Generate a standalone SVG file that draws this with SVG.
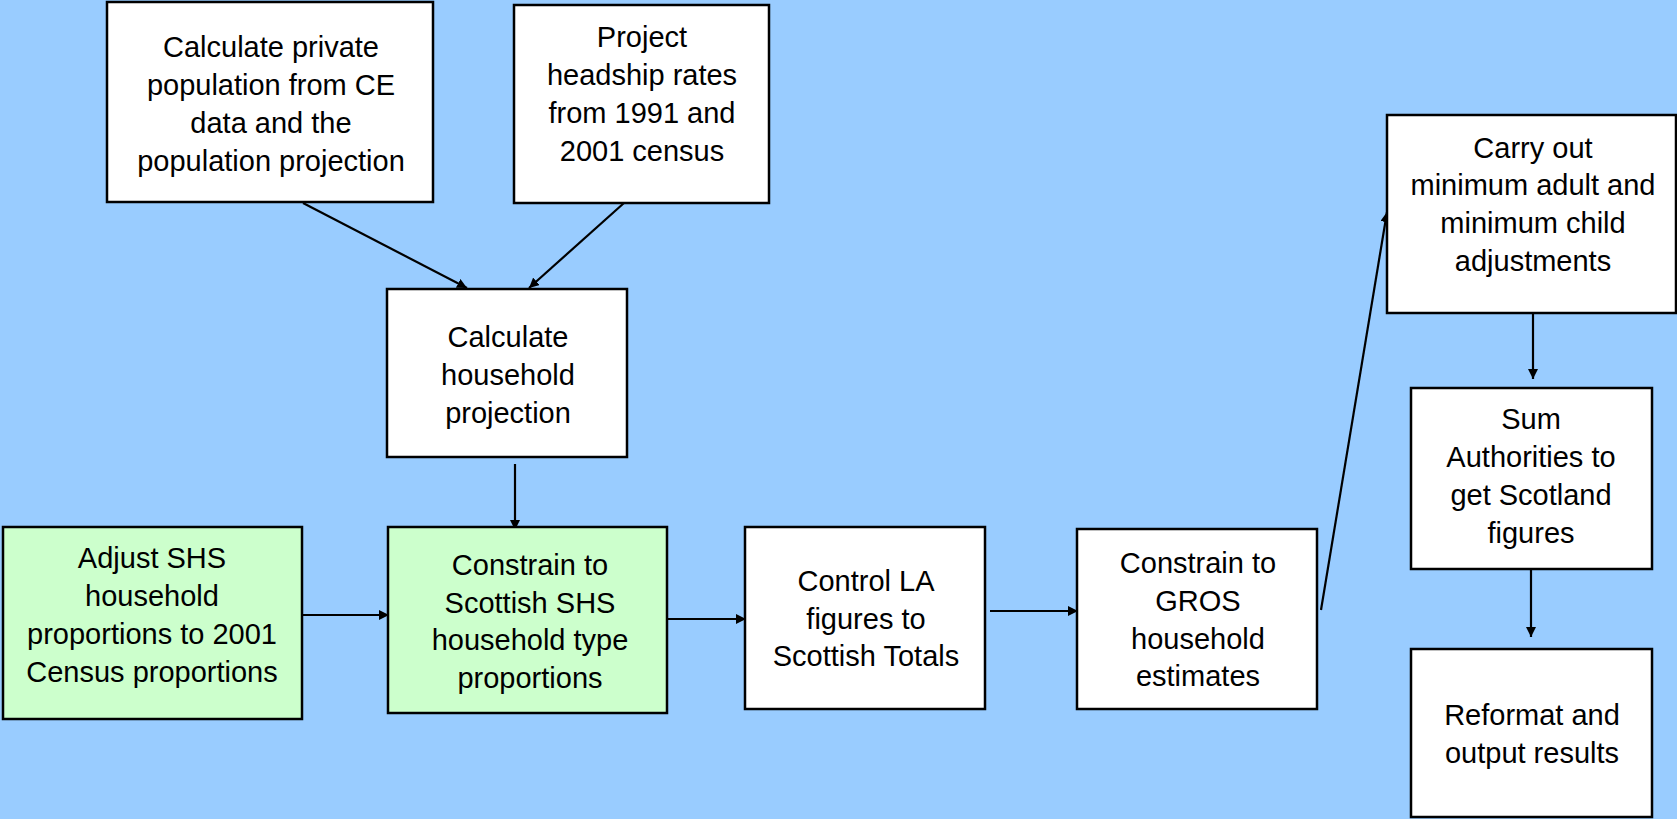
<svg xmlns="http://www.w3.org/2000/svg" width="1677" height="819" viewBox="0 0 1677 819">
<style>
.box{fill:#FFFFFF;stroke:#000000;stroke-width:2.5}
.green{fill:#CCFFCC}
.lbl{font-family:"Liberation Sans",Arial,sans-serif;font-size:29px;fill:#000000;text-anchor:middle}
.con{stroke:#000000;stroke-width:2.2;fill:none;marker-end:url(#ah)}
</style>
<defs>
<marker id="ah" markerUnits="userSpaceOnUse" markerWidth="10" markerHeight="10" refX="10" refY="5" orient="auto">
<path d="M0,0 L10,5 L0,10 z" fill="#000000"/>
</marker>
</defs>
<rect x="0" y="0" width="1677" height="819" fill="#99CCFF"/>
<g id="connectors">
<line class="con" x1="303" y1="203" x2="467" y2="288"/>
<line class="con" x1="624" y1="203" x2="529" y2="288"/>
<line class="con" x1="515" y1="464" x2="515" y2="530"/>
<line class="con" x1="302" y1="615" x2="389" y2="615"/>
<line class="con" x1="662" y1="619" x2="746" y2="619"/>
<line class="con" x1="990" y1="611" x2="1078" y2="611"/>
<line class="con" x1="1321" y1="610" x2="1387" y2="212"/>
<line class="con" x1="1533" y1="312" x2="1533" y2="379"/>
<line class="con" x1="1531" y1="569" x2="1531" y2="637"/>
</g>
<g id="n1">
<rect class="box" x="107" y="2" width="326" height="200"/>
<text class="lbl" x="271" y="57">Calculate private</text>
<text class="lbl" x="271" y="95">population from CE</text>
<text class="lbl" x="271" y="132.5">data and the</text>
<text class="lbl" x="271" y="170.5">population projection</text>
</g>
<g id="n2">
<rect class="box" x="514" y="5" width="255" height="198"/>
<text class="lbl" x="642" y="47">Project</text>
<text class="lbl" x="642" y="84.5">headship rates</text>
<text class="lbl" x="642" y="122.5">from 1991 and</text>
<text class="lbl" x="642" y="160.5">2001 census</text>
</g>
<g id="n3">
<rect class="box" x="387" y="289" width="240" height="168"/>
<text class="lbl" x="508" y="347">Calculate</text>
<text class="lbl" x="508" y="385">household</text>
<text class="lbl" x="508" y="422.5">projection</text>
</g>
<g id="n4">
<rect class="box green" x="388" y="527" width="279" height="186"/>
<text class="lbl" x="530" y="575">Constrain to</text>
<text class="lbl" x="530" y="612.5">Scottish SHS</text>
<text class="lbl" x="530" y="650">household type</text>
<text class="lbl" x="530" y="687.5">proportions</text>
</g>
<g id="n5">
<rect class="box green" x="3" y="527" width="299" height="192"/>
<text class="lbl" x="152" y="568">Adjust SHS</text>
<text class="lbl" x="152" y="606">household</text>
<text class="lbl" x="152" y="644">proportions to 2001</text>
<text class="lbl" x="152" y="682">Census proportions</text>
</g>
<g id="n6">
<rect class="box" x="745" y="527" width="240" height="182"/>
<text class="lbl" x="866" y="591">Control LA</text>
<text class="lbl" x="866" y="628.5">figures to</text>
<text class="lbl" x="866" y="666">Scottish Totals</text>
</g>
<g id="n7">
<rect class="box" x="1077" y="529" width="240" height="180"/>
<text class="lbl" x="1198" y="573">Constrain to</text>
<text class="lbl" x="1198" y="610.5">GROS</text>
<text class="lbl" x="1198" y="648.5">household</text>
<text class="lbl" x="1198" y="686">estimates</text>
</g>
<g id="n8">
<rect class="box" x="1387" y="115" width="289" height="198"/>
<text class="lbl" x="1533" y="157.5">Carry out</text>
<text class="lbl" x="1533" y="195">minimum adult and</text>
<text class="lbl" x="1533" y="233">minimum child</text>
<text class="lbl" x="1533" y="270.5">adjustments</text>
</g>
<g id="n9">
<rect class="box" x="1411" y="388" width="241" height="181"/>
<text class="lbl" x="1531" y="428.5">Sum</text>
<text class="lbl" x="1531" y="466.5">Authorities to</text>
<text class="lbl" x="1531" y="504.5">get Scotland</text>
<text class="lbl" x="1531" y="542.5">figures</text>
</g>
<g id="n10">
<rect class="box" x="1411" y="649" width="241" height="168"/>
<text class="lbl" x="1532" y="724.5">Reformat and</text>
<text class="lbl" x="1532" y="762.5">output results</text>
</g>
</svg>
